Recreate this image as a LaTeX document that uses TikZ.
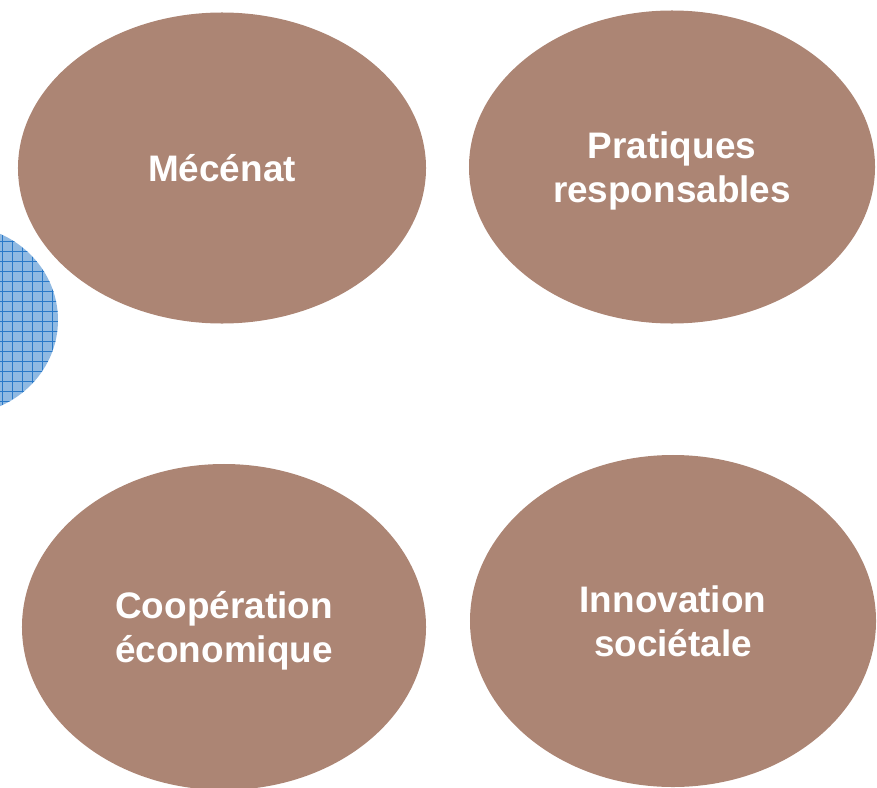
\documentclass[tikz,border=0pt]{standalone}
\usepackage{fontspec}
\setmainfont{Liberation Sans}
\usepackage{tikz}
\usetikzlibrary{shapes.geometric}
\definecolor{brownfill}{RGB}{172,133,116}
\definecolor{bluefill}{RGB}{143,185,226}
\definecolor{bluegrid}{RGB}{40,120,200}
\tikzstyle{brownblob}=[ellipse, fill=brownfill, align=center, text=white, inner sep=0pt, font=\bfseries\fontsize{31.5}{38}\selectfont]

\begin{document}
\begin{tikzpicture}[x=0.03cm,y=-0.03cm]
\useasboundingbox (0,0) rectangle (877,787);

% blue blob, cut by the left edge
\begin{scope}
\clip (0,0) rectangle (877,787);
\clip (-42,320) ellipse [x radius=100, y radius=95];
\fill[bluefill] (-150,200) rectangle (70,440);
\foreach \gx in {-138,-128,...,62} \draw[bluegrid,line width=0.5pt] (\gx,215) -- (\gx,425);
\foreach \gy in {221,231,...,421} \draw[bluegrid,line width=0.5pt] (-145,\gy) -- (65,\gy);
\end{scope}

\node[brownblob, minimum width=12.24cm, minimum height=9.33cm](mecenat) at (222,168) {Mécénat};
\node[brownblob, text depth=0pt, minimum width=12.18cm, minimum height=9.39cm](pratiques) at (672,167) {Pratiques\\responsables};
\node[brownblob, text depth=0pt, minimum width=12.12cm, minimum height=9.78cm](cooperation) at (224,627) {Coopération\\économique};
\node[brownblob, text depth=0pt, minimum width=12.18cm, minimum height=9.96cm](innovation) at (673,621) {Innovation\\sociétale};

\end{tikzpicture}
\end{document}
